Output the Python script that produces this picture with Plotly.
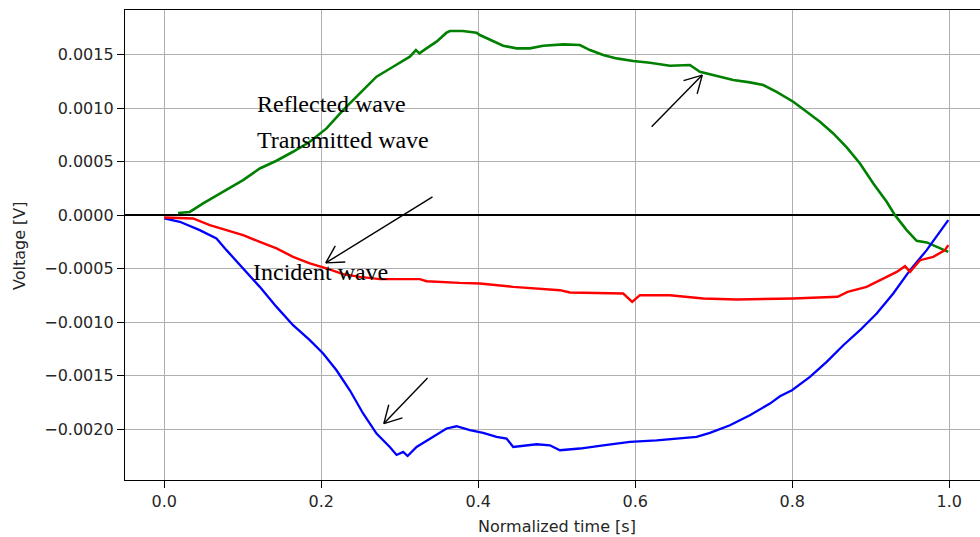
import math
import plotly.graph_objects as go

# ---------------- data ----------------
green_t = [0.0176, 0.0325, 0.0495, 0.079, 0.1004, 0.1217, 0.143, 0.164, 0.1854, 0.2067,
           0.2278, 0.2491, 0.2704, 0.2915, 0.3128, 0.3206, 0.325, 0.334, 0.3468, 0.3596,
           0.3638, 0.3800, 0.3978, 0.402, 0.4148, 0.4317, 0.4488, 0.4657, 0.4827, 0.5082,
           0.5294, 0.5422, 0.5591, 0.5762, 0.5974, 0.6186, 0.6441, 0.6696, 0.6823, 0.7036,
           0.7248, 0.746, 0.763, 0.78, 0.797, 0.8012, 0.8183, 0.8352, 0.8522, 0.8693,
           0.8862, 0.9032, 0.9202, 0.9308, 0.9457, 0.9584, 0.9712, 0.984, 0.9987]
green_v = [0.00002, 0.00003, 0.000109, 0.000234, 0.000327, 0.000436, 0.000508, 0.000592, 0.000685, 0.00081,
           0.000981, 0.001137, 0.001293, 0.001386, 0.00148, 0.001542, 0.001511, 0.001558, 0.00162, 0.001704,
           0.00172, 0.00172, 0.001704, 0.001682, 0.001636, 0.001582, 0.001558, 0.001558, 0.001582, 0.001595,
           0.001589, 0.001542, 0.001495, 0.001464, 0.001439, 0.001423, 0.001395, 0.001402, 0.001339, 0.001299,
           0.001262, 0.00124, 0.001215, 0.001152, 0.001081, 0.001059, 0.000965, 0.000872, 0.000763, 0.000633,
           0.000483, 0.000296, 0.000125, 0.0, -0.00014, -0.00024, -0.000255, -0.000296, -0.000343]

blue_t = [0.0, 0.0198, 0.0452, 0.0665, 0.0793, 0.1004, 0.1217, 0.143, 0.1641, 0.1854,
          0.2024, 0.2194, 0.2364, 0.2533, 0.2704, 0.2873, 0.2960, 0.3043, 0.3100, 0.3214,
          0.3425, 0.3596, 0.3723, 0.3893, 0.4062, 0.4233, 0.436, 0.4445, 0.4743, 0.4912,
          0.504, 0.5294, 0.5591, 0.5932, 0.6272, 0.6781, 0.6951, 0.7206, 0.746, 0.7715,
          0.7843, 0.7996, 0.8225, 0.8438, 0.865, 0.8862, 0.9075, 0.9286, 0.95, 0.9712,
          0.9987]
blue_v = [-0.000031, -0.000062, -0.00014, -0.000218, -0.000327, -0.000498, -0.00067, -0.000857, -0.001028, -0.001168,
          -0.001293, -0.001449, -0.001636, -0.001853, -0.00204, -0.002165, -0.00224, -0.002212, -0.00225, -0.002165,
          -0.002072, -0.001993, -0.001972, -0.002009, -0.002034, -0.002072, -0.002087, -0.002165, -0.00214, -0.00215,
          -0.002196, -0.00218, -0.00215, -0.002118, -0.002103, -0.002072, -0.002034, -0.001963, -0.001869, -0.00176,
          -0.001692, -0.001636, -0.001511, -0.001371, -0.001215, -0.001075, -0.000919, -0.000732, -0.000514, -0.000327,
          -0.000047]

red_t = [0.0, 0.0367, 0.058, 0.0793, 0.1004, 0.1217, 0.143, 0.1641, 0.1854, 0.2067,
         0.2278, 0.2491, 0.2746, 0.3256, 0.3341, 0.3765, 0.402, 0.4445, 0.504, 0.5167,
         0.5677, 0.5846, 0.5961, 0.6059, 0.6441, 0.6866, 0.7291, 0.797, 0.8012, 0.8577,
         0.8705, 0.8947, 0.9159, 0.933, 0.9436, 0.95, 0.9627, 0.9796, 0.9945, 0.9987]
red_v = [-0.000022, -0.000031, -0.000093, -0.00014, -0.000187, -0.00025, -0.000311, -0.00039, -0.000451, -0.000498,
         -0.000551, -0.000577, -0.000598, -0.000598, -0.000617, -0.000633, -0.000638, -0.00067, -0.000701, -0.000723,
         -0.000732, -0.000732, -0.00081, -0.000748, -0.000748, -0.000779, -0.000788, -0.000785, -0.000779, -0.000763,
         -0.000717, -0.00067, -0.000592, -0.00053, -0.000477, -0.00053, -0.000421, -0.00039, -0.000327, -0.00028]

x_ticks = [0.0, 0.2, 0.4, 0.6, 0.8, 1.0]
y_ticks = [-0.0020, -0.0015, -0.0010, -0.0005, 0.0, 0.0005, 0.0010, 0.0015]

labels = ["Reflected wave", "Transmitted wave", "Incident wave"]

X_RANGE = [-0.05, 1.0391]
Y_RANGE = [-0.002474, 0.001916]
W, H = 980, 537
M = dict(l=125, r=0, t=10, b=57)

# ---------------- figure ----------------
fig = go.Figure()
fig.add_trace(go.Scatter(x=green_t, y=green_v, mode="lines",
                         line=dict(color="#008000", width=2.6), showlegend=False))
fig.add_trace(go.Scatter(x=blue_t, y=blue_v, mode="lines",
                         line=dict(color="#0000ff", width=2.3), showlegend=False))
fig.add_trace(go.Scatter(x=red_t, y=red_v, mode="lines",
                         line=dict(color="#ff0000", width=2.4), showlegend=False))

tick_font = dict(family="DejaVu Sans", size=16, color="#262626")

fig.update_layout(
    width=W, height=H,
    margin=M,
    paper_bgcolor="white", plot_bgcolor="white",
    showlegend=False,
    xaxis=dict(range=X_RANGE, tickvals=x_ticks, tickformat=".1f",
               showgrid=True, gridcolor="#b0b0b0", gridwidth=1,
               showline=True, linecolor="black", linewidth=1.3, mirror=True,
               ticks="outside", ticklen=7, tickwidth=1.3, tickcolor="black",
               tickfont=tick_font, zeroline=False),
    yaxis=dict(range=Y_RANGE, tickvals=y_ticks, tickformat=".4f",
               showgrid=True, gridcolor="#b0b0b0", gridwidth=1,
               showline=True, linecolor="black", linewidth=1.3, mirror=False,
               ticks="outside", ticklen=7, tickwidth=1.3, tickcolor="black",
               tickfont=tick_font,
               zeroline=True, zerolinecolor="black", zerolinewidth=2.2),
)

serif = dict(family="Liberation Serif", size=24, color="black")
ann = [
    dict(x=0.1153, y=0.001035, text=labels[0]),
    dict(x=0.1153, y=0.000698, text=labels[1]),
    dict(x=0.1102, y=-0.000533, text=labels[2]),
]
for a in ann:
    fig.add_annotation(x=a["x"], y=a["y"], xref="x", yref="y", text=a["text"],
                       showarrow=False, xanchor="left", yanchor="middle", font=serif)

# arrows with open "->" heads, drawn as line shapes
px_per_x = (W - M["l"] - M["r"]) / (X_RANGE[1] - X_RANGE[0])
px_per_y = (H - M["t"] - M["b"]) / (Y_RANGE[1] - Y_RANGE[0])
arrows = [
    (0.6853, 0.001308, 0.6208, 0.000825),
    (0.2058, -0.000446, 0.3417, 0.000171),
    (0.2797, -0.001947, 0.3354, -0.001521),
]
HEAD_LEN, HEAD_HALF = 17.0, 9.5
line_style = dict(color="black", width=1.4)
for hx, hy, tx, ty in arrows:
    fig.add_shape(type="line", x0=tx, y0=ty, x1=hx, y1=hy, xref="x", yref="y", line=line_style)
    # pixel-space direction (screen y downward)
    dx = (hx - tx) * px_per_x
    dy = -(hy - ty) * px_per_y
    L = math.hypot(dx, dy)
    ux, uy = dx / L, dy / L
    nx, ny = -uy, ux
    for s in (1, -1):
        bx = -HEAD_LEN * ux + s * HEAD_HALF * nx
        by = -HEAD_LEN * uy + s * HEAD_HALF * ny
        fig.add_shape(type="line", x0=hx, y0=hy,
                      x1=hx + bx / px_per_x, y1=hy - by / px_per_y,
                      xref="x", yref="y", line=line_style)

# axis titles
axis_font = dict(family="DejaVu Sans", size=16, color="#262626")
plot_h = H - M["t"] - M["b"]
fig.add_annotation(x=0.505, y=(H - M["b"] - 526) / plot_h, xref="paper", yref="paper",
                   text="Normalized time [s]", showarrow=False, font=axis_font,
                   xanchor="center", yanchor="middle")
fig.add_annotation(x=-0.124, y=0.5, xref="paper", yref="paper", text="Voltage [V]",
                   showarrow=False, font=axis_font, textangle=-90,
                   xanchor="center", yanchor="middle")

fig.write_html("out.html")
